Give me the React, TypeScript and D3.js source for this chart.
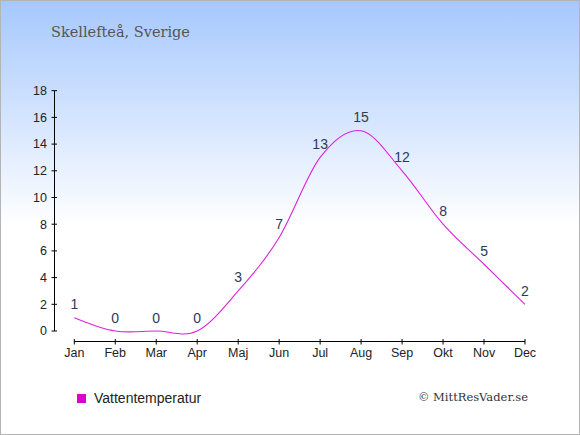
import { useMemo } from 'react';
import * as d3 from 'd3';

const months = ['Jan', 'Feb', 'Mar', 'Apr', 'Maj', 'Jun', 'Jul', 'Aug', 'Sep', 'Okt', 'Nov', 'Dec'];
const waterTemp = [1, 0, 0, 0, 3, 7, 13, 15, 12, 8, 5, 2];
const yTicks = [0, 2, 4, 6, 8, 10, 12, 14, 16, 18];

const WIDTH = 580;
const HEIGHT = 435;
const LINE_COLOR = '#dd22dd';

export default function App() {
  const x = useMemo(
    () => d3.scalePoint<string>().domain(months).range([74.3, 525]),
    []
  );
  const y = useMemo(() => d3.scaleLinear().domain([0, 18]).range([331, 90.7]), []);

  const linePath = d3
    .line<number>()
    .x((_, i) => x(months[i]) || 0)
    .y((d) => y(d))
    .curve(d3.curveCardinal)(waterTemp);

  const axisY = 341.5;

  return (
    <svg
      width={WIDTH}
      height={HEIGHT}
      style={{ position: 'absolute', left: 0, top: 0 }}
    >
      <defs>
        <linearGradient id="bg" x1="0" y1="0" x2="0" y2="1">
          <stop offset="0" stopColor="#a6c8fd" />
          <stop offset="0.52" stopColor="#ffffff" />
          <stop offset="1" stopColor="#ffffff" />
        </linearGradient>
      </defs>
      <rect x={0.5} y={0.5} width={WIDTH - 1} height={HEIGHT - 1} fill="url(#bg)" stroke="#b4b4b4" />

      <text x={51} y={37} fontFamily="'DejaVu Serif'" fontSize={14.5} fill="#555">
        Skellefteå, Sverige
      </text>

      {/* y axis */}
      <line x1={54.5} x2={54.5} y1={y(18)} y2={y(0)} stroke="#000" />
      {yTicks.map((t) => (
        <g key={t}>
          <line x1={51.5} x2={57} y1={y(t)} y2={y(t)} stroke="#000" />
          <text
            x={47}
            y={y(t)}
            dy="0.35em"
            textAnchor="end"
            fontFamily="'Liberation Sans', Arial"
            fontSize={12.5}
            fill="#222"
          >
            {t}
          </text>
        </g>
      ))}

      {/* x axis */}
      <line x1={x('Jan')} x2={x('Dec')} y1={axisY} y2={axisY} stroke="#000" />
      {months.map((m) => (
        <g key={m}>
          <line x1={x(m)} x2={x(m)} y1={339} y2={344.5} stroke="#000" />
          <text
            x={x(m)}
            y={357}
            textAnchor="middle"
            fontFamily="'Liberation Sans', Arial"
            fontSize={12.5}
            fill="#222"
          >
            {m}
          </text>
        </g>
      ))}

      <path d={linePath || ''} fill="none" stroke={LINE_COLOR} strokeWidth={1.1} />

      {waterTemp.map((v, i) => (
        <text
          key={i}
          x={x(months[i])}
          y={y(v) - 8.5}
          textAnchor="middle"
          fontFamily="'Liberation Sans', Arial"
          fontSize={14}
          fill="#2b3b58"
        >
          {v}
        </text>
      ))}

      {/* legend */}
      <rect x={77} y={394} width={9} height={9} fill="#dd00cc" />
      <text x={94} y={403} fontFamily="'Liberation Sans', Arial" fontSize={14} fill="#222">
        Vattentemperatur
      </text>

      <text
        x={528}
        y={401}
        textAnchor="end"
        fontFamily="'DejaVu Serif'"
        fontSize={11.5}
        fill="#333"
      >
        © MittResVader.se
      </text>
    </svg>
  );
}
